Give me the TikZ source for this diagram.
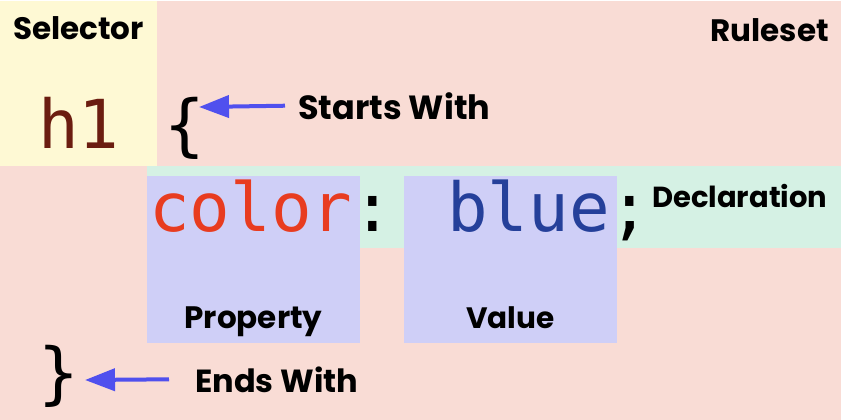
\documentclass[tikz,border=0pt]{standalone}
\usepackage{fontspec}
\usetikzlibrary{positioning, arrows.meta}
\newfontfamily\lblfont{Poppins}
\newfontfamily\codefont{DejaVu Sans Mono}
\definecolor{rulebg}{HTML}{F9DCD5}
\definecolor{selbg}{HTML}{FEF9D4}
\definecolor{declbg}{HTML}{D5F1E4}
\definecolor{boxbg}{HTML}{CFCFF7}
\definecolor{arrowblue}{HTML}{5050EE}
\definecolor{selred}{HTML}{6B1D10}
\definecolor{propred}{HTML}{E83C20}
\definecolor{valblue}{HTML}{25409A}
\tikzset{area/.style={ % Coloured backgrounds
draw=none, inner sep=0pt, outer sep=0pt,
anchor=north west},
lbl/.style={ % Bold captions
font=\lblfont\bfseries\fontsize{31pt}{33pt}\selectfont,
inner sep=0pt, anchor=base west},
code/.style={ % The css code itself
font=\codefont\fontsize{67.5pt}{70pt}\selectfont,
inner sep=0pt, anchor=base west},
pointer/.style={ % Blue arrows
draw=arrowblue, line width=4pt,
-{Triangle[length=30pt, width=22pt]}}}

\begin{document}
\begin{tikzpicture}[x=1pt, y=-1pt]

    \useasboundingbox (0,0) rectangle (841,420);
    \fill[white] (0,0) rectangle (841,420);

    % areas
    \node[area, fill=rulebg, minimum width=841, minimum height=419] (ruleset) at (0,1) {};
    \node[area, fill=selbg, minimum width=157, minimum height=165] (selarea) at (0,1) {};
    \node[area, fill=declbg, minimum width=694, minimum height=82] (declarea) at (147,166) {};
    \node[area, fill=boxbg, minimum width=213, minimum height=167] (propbox) at (147,176) {};
    \node[area, fill=boxbg, minimum width=213, minimum height=167] (valbox) at (404,176) {};

    % code
    \node[code, text=selred] (h1) at (38,148) {h1};
    \node[code] (obrace) at (164,148) {\{};
    \node[code] (decltext) at (149,231) {\textcolor{propred}{color}: \textcolor{valblue}{blue};};
    \node[code] (cbrace) at (38,396) {\}};

    % captions
    \node[lbl] (selector) at (13,40) {Selector};
    \node[lbl, anchor=base east] (rulesetlbl) at (829,42) {Ruleset};
    \node[lbl, font=\lblfont\bfseries\fontsize{33.5pt}{35pt}\selectfont] (starts) at (298,119) {Starts With};
    \node[lbl, font=\lblfont\bfseries\fontsize{29pt}{31pt}\selectfont] (declaration) at (652,207) {Declaration};
    \node[lbl, anchor=base] (property) at (253.5,328) {Property};
    \node[lbl, anchor=base, font=\lblfont\bfseries\fontsize{29.5pt}{31pt}\selectfont] (value) at (510.5,328) {Value};
    \node[lbl, font=\lblfont\bfseries\fontsize{32pt}{34pt}\selectfont] (ends) at (195,392) {Ends With};

    % arrows
    \coordinate (starttip) at (199,107);
    \coordinate (endtip) at (85,380);
    \draw[pointer] ([xshift=-13pt]starts.west) -- (starttip);
    \draw[pointer] ([xshift=-26pt]ends.west) -- (endtip);

\end{tikzpicture}
\end{document}
